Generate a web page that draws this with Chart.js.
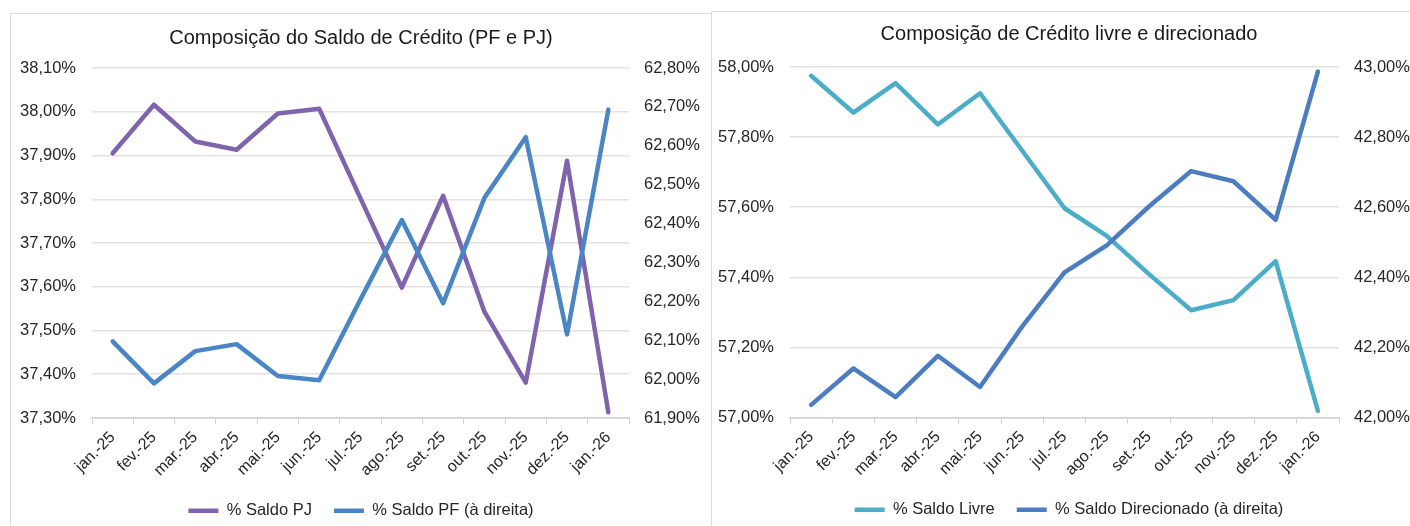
<!DOCTYPE html>
<html lang="pt-BR">
<head>
<meta charset="utf-8">
<title>Composição do Saldo de Crédito</title>
<script src="https://cdn.jsdelivr.net/npm/chart.js@4/dist/chart.umd.min.js"></script>
<style>
    html, body {
        margin: 0;
        padding: 0;
        width: 1410px;
        height: 526px;
        overflow: hidden;
        background: #ffffff;
        font-family: "Liberation Sans", Arial, sans-serif;
    }
    .panel {
        position: absolute;
        background: #ffffff;
        border: 1px solid #dcdcdc;
        box-sizing: border-box;
    }
    #panel-left { left: 10px; top: 13px; width: 702px; height: 530px; }
    #panel-right { left: 711px; top: 11px; width: 716px; height: 530px; }
    .panel canvas { position: absolute; left: 0; top: 0; }
</style>
</head>
<body>
<div class="panel" id="panel-left"><canvas id="chart-pfpj"></canvas></div>
<div class="panel" id="panel-right"><canvas id="chart-livre"></canvas></div>

<script>
// Meses (eixo X, igual nos dois gráficos)
const months = ['jan.-25', 'fev.-25', 'mar.-25', 'abr.-25', 'mai.-25', 'jun.-25',
    'jul.-25', 'ago.-25', 'set.-25', 'out.-25', 'nov.-25', 'dez.-25', 'jan.-26'];

// Gráfico 1 - PF e PJ (% do saldo)
const saldoPJ = [37.905, 38.016, 37.932, 37.913, 37.996, 38.007, 37.802, 37.598, 37.808, 37.543, 37.381, 37.888, 37.313];
const saldoPF = [62.097, 61.989, 62.072, 62.090, 62.008, 61.997, 62.205, 62.409, 62.195, 62.466, 62.622, 62.115, 62.693];

// Gráfico 2 - livre e direcionado (% do saldo)
const saldoLivre = [57.975, 57.870, 57.954, 57.836, 57.925, 57.761, 57.597, 57.518, 57.409, 57.306, 57.335, 57.446, 57.019];
const saldoDirecionado = [42.036, 42.140, 42.058, 42.176, 42.087, 42.260, 42.414, 42.491, 42.602, 42.703, 42.674, 42.564, 42.987];

// Faixas dos eixos Y
const pjAxis = { min: 37.3, max: 38.1, step: 0.1 };
const pfAxis = { min: 61.9, max: 62.8, step: 0.1 };
const livreAxis = { min: 57.0, max: 58.0, step: 0.2 };
const direcAxis = { min: 42.0, max: 43.0, step: 0.2 };

const FONT = '"Liberation Sans", Arial, sans-serif';
const TEXT = '#262626';
const GRID = '#e2e2e2';
const AXIS = '#d0d0d0';

const pct = v => v.toFixed(2).replace('.', ',') + '%';

function lineDataset(label, data, color, axisId, order) {
    return {
        label: label,
        data: data,
        yAxisID: axisId,
        borderColor: color,
        backgroundColor: color,
        borderWidth: 4.5,
        borderCapStyle: 'round',
        borderJoinStyle: 'round',
        pointRadius: 0,
        pointHoverRadius: 0,
        tension: 0,
        fill: false,
        order: order
    };
}

/**
 * Monta um gráfico de linhas com dois eixos Y
 * geo: medidas do layout (largura dos eixos, título, etc.)
 */
function buildChart(canvasId, size, title, datasets, leftAxis, rightAxis, geo) {
    const canvas = document.getElementById(canvasId);
    canvas.width = size.w;
    canvas.height = size.h;
    canvas.style.width = size.w + 'px';
    canvas.style.height = size.h + 'px';

    return new Chart(canvas.getContext('2d'), {
        type: 'line',
        data: { labels: months, datasets: datasets },
        options: {
            responsive: false,
            animation: false,
            events: [],
            layout: { padding: { top: 0, left: 0, right: 0, bottom: geo.padBottom } },
            plugins: {
                title: {
                    display: true,
                    text: title,
                    color: '#1a1a1a',
                    font: { family: FONT, size: 20, weight: 'normal', lineHeight: 1.2 },
                    padding: { top: geo.titleTop, bottom: geo.titleBottom }
                },
                legend: {
                    position: 'bottom',
                    labels: {
                        color: TEXT,
                        font: { family: FONT, size: 16.5 },
                        usePointStyle: true,
                        pointStyle: 'line',
                        pointStyleWidth: 30,
                        padding: 22,
                        sort: (a, b) => a.datasetIndex - b.datasetIndex
                    }
                },
                tooltip: { enabled: false }
            },
            scales: {
                x: {
                    offset: true,
                    grid: {
                        offset: true,
                        drawOnChartArea: false,
                        drawTicks: true,
                        tickLength: 6,
                        color: AXIS
                    },
                    border: { display: true, color: AXIS, width: 1.5 },
                    ticks: {
                        color: TEXT,
                        font: { family: FONT, size: 16 },
                        maxRotation: 45,
                        minRotation: 45,
                        autoSkip: false,
                        padding: 4
                    },
                    afterFit: s => { s.height = geo.xHeight; }
                },
                y: {
                    position: 'left',
                    min: leftAxis.min,
                    max: leftAxis.max,
                    grid: { color: GRID, lineWidth: 1.5, drawTicks: false },
                    border: { display: false },
                    ticks: {
                        stepSize: leftAxis.step,
                        color: TEXT,
                        font: { family: FONT, size: 16.5 },
                        padding: 16,
                        callback: v => pct(v)
                    },
                    afterFit: s => { s.width = geo.leftW; }
                },
                y1: {
                    position: 'right',
                    min: rightAxis.min,
                    max: rightAxis.max,
                    grid: { display: false, drawTicks: false },
                    border: { display: false },
                    ticks: {
                        stepSize: rightAxis.step,
                        color: TEXT,
                        font: { family: FONT, size: 16.5 },
                        padding: 15,
                        callback: v => pct(v)
                    },
                    afterFit: s => { s.width = geo.rightW; }
                }
            }
        }
    });
}

// Gráfico da esquerda: PF x PJ
buildChart('chart-pfpj', { w: 700, h: 516 },
    'Composição do Saldo de Crédito (PF e PJ)',
    [
        lineDataset('% Saldo PJ', saldoPJ, '#7F63AD', 'y', 2),
        lineDataset('% Saldo PF (à direita)', saldoPF, '#4A85C5', 'y1', 1)
    ],
    pjAxis, pfAxis,
    { leftW: 81, rightW: 82, titleTop: 12.6, titleBottom: 17.4, xHeight: 62.5, padBottom: 1 });

// Gráfico da direita: livre x direcionado
buildChart('chart-livre', { w: 714, h: 520 },
    'Composição de Crédito livre e direcionado',
    [
        lineDataset('% Saldo Livre', saldoLivre, '#4BADC8', 'y', 2),
        lineDataset('% Saldo Direcionado (à direita)', saldoDirecionado, '#4C7DC0', 'y1', 1)
    ],
    livreAxis, direcAxis,
    { leftW: 78, rightW: 87, titleTop: 10.9, titleBottom: 20.1, xHeight: 62, padBottom: 4 });
</script>
</body>
</html>
